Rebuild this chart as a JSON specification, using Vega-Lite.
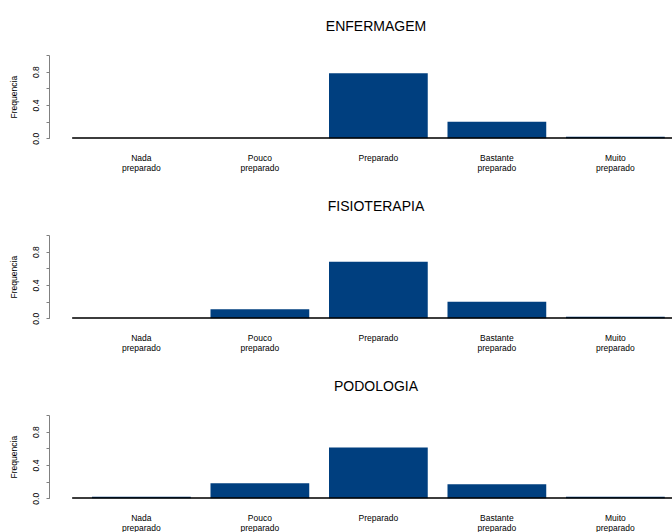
{
  "$schema": "https://vega.github.io/schema/vega-lite/v6.json",
  "padding": {"left": 9, "top": 19, "right": 0, "bottom": 0},
  "background": "white",
  "config": {
    "font": "Liberation Sans",
    "view": {"stroke": null},
    "title": {"fontSize": 14, "fontWeight": "normal", "color": "black", "anchor": "middle", "frame": "group", "dx": 15, "offset": 21},
    "axisX": {"title": null, "domain": false, "ticks": false, "labelAngle": 0, "labelFontSize": 8.5, "labelLineHeight": 10, "labelPadding": 15, "labelColor": "black", "labelExpr": "split(datum.label, ' ')"},
    "axisY": {"grid": false, "tickSize": 3, "domainColor": "#808080", "tickColor": "#808080", "labelAngle": -90, "labelAlign": "center", "labelBaseline": "bottom", "labelOverlap": false, "labelFlush": false, "labelFontSize": 8.5, "labelColor": "black", "labelPadding": 6, "titleFontSize": 8.5, "titleFontWeight": "normal", "titleColor": "black", "titlePadding": 13}
  },
  "data": {"values": [
    {"curso": "ENFERMAGEM", "nivel": "Nada preparado", "freq": 0},
    {"curso": "ENFERMAGEM", "nivel": "Pouco preparado", "freq": 0},
    {"curso": "ENFERMAGEM", "nivel": "Preparado", "freq": 0.78},
    {"curso": "ENFERMAGEM", "nivel": "Bastante preparado", "freq": 0.2},
    {"curso": "ENFERMAGEM", "nivel": "Muito preparado", "freq": 0.02},
    {"curso": "FISIOTERAPIA", "nivel": "Nada preparado", "freq": 0},
    {"curso": "FISIOTERAPIA", "nivel": "Pouco preparado", "freq": 0.11},
    {"curso": "FISIOTERAPIA", "nivel": "Preparado", "freq": 0.68},
    {"curso": "FISIOTERAPIA", "nivel": "Bastante preparado", "freq": 0.2},
    {"curso": "FISIOTERAPIA", "nivel": "Muito preparado", "freq": 0.02},
    {"curso": "PODOLOGIA", "nivel": "Nada preparado", "freq": 0.02},
    {"curso": "PODOLOGIA", "nivel": "Pouco preparado", "freq": 0.18},
    {"curso": "PODOLOGIA", "nivel": "Preparado", "freq": 0.61},
    {"curso": "PODOLOGIA", "nivel": "Bastante preparado", "freq": 0.17},
    {"curso": "PODOLOGIA", "nivel": "Muito preparado", "freq": 0.02}
  ]},
  "spacing": 27,
  "vconcat": [
    {
      "title": "ENFERMAGEM",
      "width": 624, "height": 83.3,
      "transform": [{"filter": "datum.curso == 'ENFERMAGEM'"}],
      "encoding": {
        "x": {"field": "nivel", "type": "nominal", "sort": ["Nada preparado", "Pouco preparado", "Preparado", "Bastante preparado", "Muito preparado"], "scale": {"range": [43, 615.75], "paddingInner": 0.1667, "paddingOuter": 0}},
        "y": {"field": "freq", "type": "quantitative", "title": "Frequencia", "scale": {"domain": [0, 1], "nice": false}, "axis": {"values": [0, 0.2, 0.4, 0.6, 0.8, 1], "labelExpr": "datum.value == 0 ? '0.0' : datum.value == 0.4 ? '0.4' : datum.value == 0.8 ? '0.8' : ''"}}
      },
      "layer": [
        {"mark": {"type": "bar", "color": "#003f7f"}},
        {"mark": {"type": "rule", "color": "black", "strokeWidth": 1.2, "clip": true}, "encoding": {"x": {"datum": "Nada preparado", "bandPosition": -0.2}, "x2": {"value": "width"}, "y": {"datum": 0}}}
      ]
    },
    {
      "title": "FISIOTERAPIA",
      "width": 624, "height": 83.3,
      "transform": [{"filter": "datum.curso == 'FISIOTERAPIA'"}],
      "encoding": {
        "x": {"field": "nivel", "type": "nominal", "sort": ["Nada preparado", "Pouco preparado", "Preparado", "Bastante preparado", "Muito preparado"], "scale": {"range": [43, 615.75], "paddingInner": 0.1667, "paddingOuter": 0}},
        "y": {"field": "freq", "type": "quantitative", "title": "Frequencia", "scale": {"domain": [0, 1], "nice": false}, "axis": {"values": [0, 0.2, 0.4, 0.6, 0.8, 1], "labelExpr": "datum.value == 0 ? '0.0' : datum.value == 0.4 ? '0.4' : datum.value == 0.8 ? '0.8' : ''"}}
      },
      "layer": [
        {"mark": {"type": "bar", "color": "#003f7f"}},
        {"mark": {"type": "rule", "color": "black", "strokeWidth": 1.2, "clip": true}, "encoding": {"x": {"datum": "Nada preparado", "bandPosition": -0.2}, "x2": {"value": "width"}, "y": {"datum": 0}}}
      ]
    },
    {
      "title": "PODOLOGIA",
      "width": 624, "height": 83.3,
      "transform": [{"filter": "datum.curso == 'PODOLOGIA'"}],
      "encoding": {
        "x": {"field": "nivel", "type": "nominal", "sort": ["Nada preparado", "Pouco preparado", "Preparado", "Bastante preparado", "Muito preparado"], "scale": {"range": [43, 615.75], "paddingInner": 0.1667, "paddingOuter": 0}},
        "y": {"field": "freq", "type": "quantitative", "title": "Frequencia", "scale": {"domain": [0, 1], "nice": false}, "axis": {"values": [0, 0.2, 0.4, 0.6, 0.8, 1], "labelExpr": "datum.value == 0 ? '0.0' : datum.value == 0.4 ? '0.4' : datum.value == 0.8 ? '0.8' : ''"}}
      },
      "layer": [
        {"mark": {"type": "bar", "color": "#003f7f"}},
        {"mark": {"type": "rule", "color": "black", "strokeWidth": 1.2, "clip": true}, "encoding": {"x": {"datum": "Nada preparado", "bandPosition": -0.2}, "x2": {"value": "width"}, "y": {"datum": 0}}}
      ]
    }
  ]
}
